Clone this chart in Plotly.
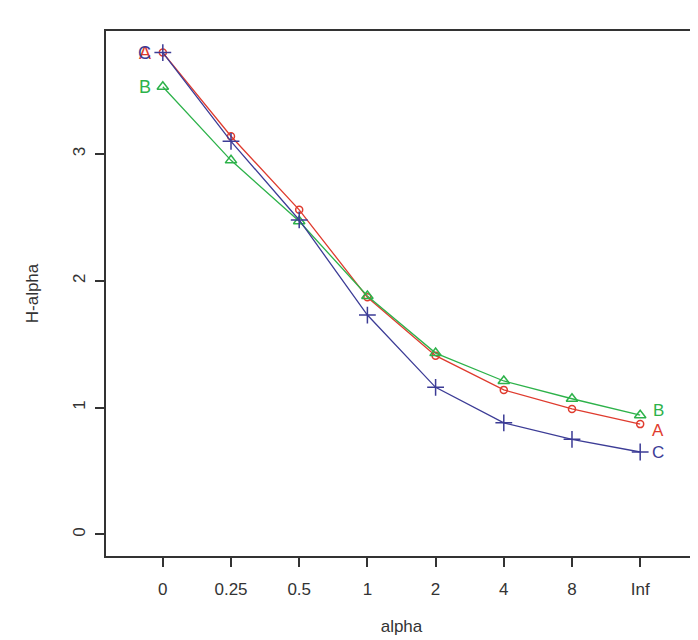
import plotly.graph_objects as go

alpha_labels = ['0', '0.25', '0.5', '1', '2', '4', '8', 'Inf']
series_names = ['A', 'B', 'C']
h_a = [3.80, 3.14, 2.56, 1.87, 1.41, 1.14, 0.99, 0.87]
h_b = [3.53, 2.95, 2.47, 1.88, 1.43, 1.21, 1.07, 0.94]
h_c = [3.80, 3.10, 2.48, 1.73, 1.16, 0.88, 0.75, 0.65]

colors = {'A': '#DF3B2E', 'B': '#2DB24A', 'C': '#3C3C96'}
symbols = {'A': 'circle-open', 'B': 'triangle-up-open', 'C': 'cross-thin-open'}
sizes = {'A': 7, 'B': 10, 'C': 12}
font_fam = 'Liberation Sans, Arial, sans-serif'
end_shift = {'A': -6, 'B': 5, 'C': 0}

fig = go.Figure()
for name, vals in zip(series_names, [h_a, h_b, h_c]):
    fig.add_trace(go.Scatter(x=alpha_labels, y=vals, mode='lines+markers', name=name,
                             line=dict(color=colors[name], width=1.3),
                             marker=dict(symbol=symbols[name], size=sizes[name],
                                         color=colors[name], line=dict(width=1.5, color=colors[name]))))
    # letter labels at both ends of each line
    fig.add_annotation(x=alpha_labels[0], y=vals[0], text=name, showarrow=False, xshift=-18,
                       font=dict(color=colors[name], size=18, family=font_fam))
    fig.add_annotation(x=alpha_labels[-1], y=vals[-1], text=name, showarrow=False, xshift=18,
                       yshift=end_shift[name],
                       font=dict(color=colors[name], size=17, family=font_fam))

axis_common = dict(showline=True, linecolor='#333333', linewidth=1.5, mirror=True,
                   ticks='outside', ticklen=9, tickcolor='#333333', tickwidth=1.5,
                   showgrid=False, zeroline=False,
                   tickfont=dict(size=17, color='#333333', family=font_fam))

fig.update_layout(
    width=698, height=640, showlegend=False,
    plot_bgcolor='white', paper_bgcolor='white',
    margin=dict(l=98, r=7, t=23, b=92),
    font=dict(family=font_fam, color='#333333'),
    xaxis=dict(type='category', range=[-0.833, 7.833], ticklabelstandoff=8,
               title=dict(text='alpha', font=dict(size=17), standoff=22), **axis_common),
    yaxis=dict(range=[-0.17, 3.97], tickvals=[0, 1, 2, 3], tickangle=-90, ticklabelstandoff=3,
               title=dict(text='H-alpha', font=dict(size=17), standoff=28), **axis_common),
)

fig.write_html("out.html")
